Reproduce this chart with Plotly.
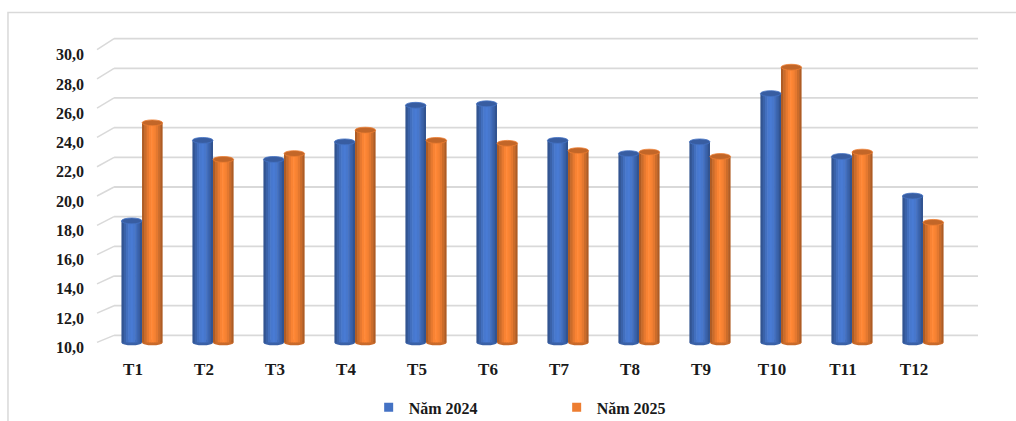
import plotly.graph_objects as go

# Monthly values, two years side by side
months = ["T1", "T2", "T3", "T4", "T5", "T6", "T7", "T8", "T9", "T10", "T11", "T12"]
nam_2024 = [18.3, 23.8, 22.5, 23.7, 26.2, 26.3, 23.8, 22.9, 23.7, 27.0, 22.7, 20.0]
nam_2025 = [25.0, 22.5, 22.9, 24.5, 23.8, 23.6, 23.1, 23.0, 22.7, 28.8, 23.0, 18.2]
y_ticks = [10, 12, 14, 16, 18, 20, 22, 24, 26, 28, 30]

series_names = ["Năm 2024", "Năm 2025"]
series_colors = ["#4472C4", "#ED7D31"]

BASE = 10.0          # floor of the value axis
BAR_W = 0.29         # width of one cylinder, in category units
N_STRIPS = 9         # vertical strips used to shade each cylinder
CAP_H = 0.2          # half height of the elliptical caps, in value units
shade_profile = [0.74, 0.86, 0.97, 1.05, 1.08, 1.04, 0.96, 0.86, 0.74]

FONT = "Liberation Serif"


def hex_to_rgb(h):
    h = h.lstrip("#")
    return [int(h[i:i + 2], 16) for i in (0, 2, 4)]


def shade(h, f):
    r, g, b = hex_to_rgb(h)
    c = [max(0, min(255, round(v * f))) for v in (r, g, b)]
    return "rgb({},{},{})".format(*c)


x_idx = list(range(len(months)))
fig = go.Figure()
shapes = []

# Back-wall gridlines with the short perspective segment on the left
for v in y_ticks:
    v_back = BASE + 0.479 + (v - BASE) * 1.0137
    shapes.append(dict(type="line", xref="paper", yref="y",
                       x0=-0.0034, x1=0.016, y0=v, y1=v_back,
                       line=dict(color="#D9D9D9", width=1.5), layer="below"))
    shapes.append(dict(type="line", xref="paper", yref="y",
                       x0=0.016, x1=1.0, y0=v_back, y1=v_back,
                       line=dict(color="#D9D9D9", width=1.8), layer="below"))

series = [(nam_2024, series_colors[0], -BAR_W, series_names[0]),
          (nam_2025, series_colors[1], 0.0, series_names[1])]

for vals, col, start, name in series:
    strip_w = BAR_W / N_STRIPS
    for k in range(N_STRIPS):
        w = strip_w * (1.25 if k < N_STRIPS - 1 else 1.0)
        fig.add_trace(go.Bar(
            x=x_idx, y=[v - BASE for v in vals], base=BASE,
            offset=start + k * strip_w, width=w,
            marker=dict(color=shade(col, shade_profile[k]), line=dict(width=0)),
            showlegend=False, legendgroup=name, hoverinfo="skip"))
    for i, v in enumerate(vals):
        # rounded bottom
        shapes.append(dict(type="circle", xref="x", yref="y",
                           x0=i + start, x1=i + start + BAR_W,
                           y0=BASE - CAP_H, y1=BASE + CAP_H,
                           fillcolor=shade(col, 0.85), line=dict(width=0),
                           layer="below"))
        # top cap
        shapes.append(dict(type="circle", xref="x", yref="y",
                           x0=i + start, x1=i + start + BAR_W,
                           y0=v - CAP_H, y1=v + CAP_H,
                           fillcolor=shade(col, 0.82),
                           line=dict(width=0.8, color=shade(col, 1.0)),
                           layer="above"))
    # legend entry
    fig.add_trace(go.Scatter(x=[None], y=[None], mode="markers", name=name,
                             legendgroup=name,
                             marker=dict(symbol="square", size=9, color=col)))

# Outer frame of the chart
shapes.append(dict(type="rect", xref="paper", yref="paper",
                   x0=-0.1048, x1=1.06, y0=-0.3, y1=1.0717,
                   line=dict(color="#D9D9D9", width=1.5), fillcolor="rgba(0,0,0,0)",
                   layer="below"))

fig.update_layout(
    width=1016, height=421,
    margin=dict(l=100, r=38, t=35, b=72, autoexpand=False),
    paper_bgcolor="white", plot_bgcolor="white",
    barmode="overlay",
    separators=",.",
    font=dict(family=FONT, size=17, color="#1A1A1A", weight="bold"),
    shapes=shapes,
    showlegend=True,
    legend=dict(orientation="h", x=0.306, xanchor="left", y=-0.186, yanchor="middle",
                entrywidth=143, entrywidthmode="pixels",
                font=dict(family=FONT, size=16, color="#1A1A1A", weight="bold"),
                bgcolor="rgba(0,0,0,0)"),
    xaxis=dict(range=[-0.592, 11.775], tickmode="array", tickvals=x_idx,
               ticktext=months, showgrid=False, zeroline=False, showline=False,
               ticks="", ticklabelstandoff=8, ticklabelshift=-9, fixedrange=True),
    yaxis=dict(range=[9.55, 31.0], tickmode="array", tickvals=y_ticks,
               tickformat=".1f", showgrid=False, zeroline=False, showline=False,
               tickfont=dict(size=16),
               ticks="", ticklabelstandoff=15, ticklabelshift=5, fixedrange=True),
)

fig.write_html("out.html")
